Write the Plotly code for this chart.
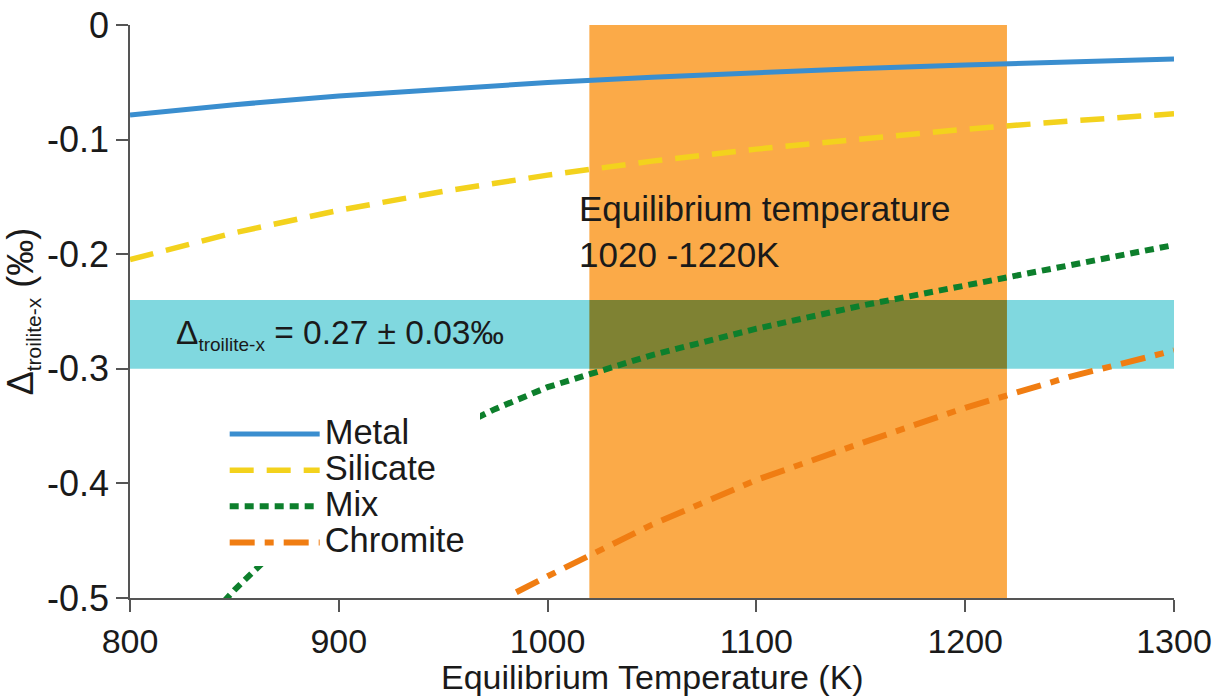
import plotly.graph_objects as go

# Fractionation curves, Δ(troilite - x) in ‰ versus equilibrium temperature (K)
metal_T = [800, 850, 900, 950, 1000, 1050, 1100, 1150, 1200, 1250, 1300]
metal_d = [-0.0785, -0.0695, -0.0620, -0.0556, -0.0502, -0.0455, -0.0415, -0.0380, -0.0349, -0.0321, -0.0297]

silicate_T = [800, 850, 900, 950, 1000, 1050, 1100, 1150, 1200, 1250, 1300]
silicate_d = [-0.2047, -0.1813, -0.1617, -0.1452, -0.1310, -0.1188, -0.1083, -0.0991, -0.0910, -0.0838, -0.0775]

mix_T = [845, 850, 875, 900, 925, 950, 975, 1000, 1050, 1100, 1150, 1200, 1250, 1300]
mix_d = [-0.503, -0.493, -0.449, -0.413, -0.383, -0.357, -0.335, -0.316, -0.288, -0.265, -0.245, -0.227, -0.209, -0.192]

chromite_T = [985, 1000, 1050, 1100, 1150, 1200, 1250, 1300]
chromite_d = [-0.495, -0.481, -0.436, -0.397, -0.365, -0.334, -0.307, -0.284]

# Equilibrium temperature window and measured Δ
eq_lo, eq_hi = 1020, 1220
delta_mean, delta_err = 0.27, 0.03

x_ticks = [800, 900, 1000, 1100, 1200, 1300]
x_tick_labels = ["800", "900", "1000", "1100", "1200", "1300"]
y_ticks = [-0.5, -0.4, -0.3, -0.2, -0.1, 0]
y_tick_labels = ["-0.5", "-0.4", "-0.3", "-0.2", "-0.1", "0"]

FONT = "Liberation Sans, Arial, sans-serif"
TXT = "#1a1a1a"
band_lo, band_hi = -(delta_mean + delta_err), -(delta_mean - delta_err)


def legend_name(s, pad=0):
    # larger visible text than the legend's base size keeps the rows tight
    return f"<span style='font-size:34.5px'>{s}{'&nbsp;' * pad}</span>"


fig = go.Figure()

series = [
    ("Metal", metal_T, metal_d, dict(color="#3a8ecf", width=5), 0),
    ("Silicate", silicate_T, silicate_d, dict(color="#f3d21d", width=5.5, dash="24px,13px"), 0),
    ("Mix", mix_T, mix_d, dict(color="#0d7f2c", width=6, dash="9px,6px"), 0),
    ("Chromite", chromite_T, chromite_d, dict(color="#f07d12", width=6, dash="25px,10px,9px,10px"), 1),
]
for name, xs, ys, line, pad in series:
    fig.add_trace(go.Scatter(x=xs, y=ys, mode="lines", name=legend_name(name, pad), line=line))

# shaded regions (drawn beneath the curves)
fig.add_shape(type="rect", xref="x", yref="y", x0=eq_lo, x1=eq_hi, y0=-0.5, y1=0,
              fillcolor="#fbaa48", line_width=0, layer="below")
fig.add_shape(type="rect", xref="x", yref="y", x0=800, x1=1300, y0=band_lo, y1=band_hi,
              fillcolor="#80d8df", line_width=0, layer="below")
fig.add_shape(type="rect", xref="x", yref="y", x0=eq_lo, x1=eq_hi, y0=band_lo, y1=band_hi,
              fillcolor="#7f8233", line_width=0, layer="below")

fig.add_annotation(x=1014, y=-0.141, xref="x", yref="y", xanchor="left", yanchor="top",
                   align="left", showarrow=False,
                   text=f"Equilibrium temperature<br>{eq_lo} -{eq_hi}K",
                   font=dict(family=FONT, size=35, color=TXT))
fig.add_annotation(x=821, y=-0.27, xref="x", yref="y", xanchor="left", yanchor="middle",
                   showarrow=False,
                   text=f"Δ<sub><span style='font-size:19px'>troilite-x</span></sub> = {delta_mean} ± {delta_err}‰",
                   font=dict(family=FONT, size=33.5, color=TXT))
# x-axis title placed directly below the tick labels
fig.add_annotation(x=0.5, y=-0.1379, xref="paper", yref="paper", xanchor="center", yanchor="middle",
                   showarrow=False, text="Equilibrium Temperature (K)",
                   font=dict(family=FONT, size=34, color=TXT))

fig.update_layout(
    width=1227, height=697,
    margin=dict(l=130, r=53, t=25, b=99),
    paper_bgcolor="white", plot_bgcolor="white",
    font=dict(family=FONT, size=33, color=TXT),
    showlegend=True,
    legend=dict(x=0.0907, y=0.3264, xanchor="left", yanchor="top",
                bgcolor="white", borderwidth=0, itemwidth=90,
                font=dict(family=FONT, size=25.5, color=TXT),
                tracegroupgap=0),
)
fig.update_xaxes(range=[800, 1300], tickvals=x_ticks, ticktext=x_tick_labels,
                 showline=True, linecolor="#555", linewidth=1.5, ticks="outside",
                 ticklen=12, tickcolor="#555", tickwidth=1.5, showgrid=False, zeroline=False,
                 tickfont=dict(size=34), automargin=False)
fig.update_yaxes(range=[-0.5, 0], tickvals=y_ticks, ticktext=y_tick_labels,
                 showline=True, linecolor="#555", linewidth=1.5, ticks="outside",
                 ticklen=12, tickcolor="#555", tickwidth=1.5, showgrid=False, zeroline=False,
                 tickfont=dict(size=36), automargin=False,
                 title=dict(text="Δ<sub><span style='font-size:21px'>troilite-x</span></sub> (‰)",
                            font=dict(size=36), standoff=4))

fig.write_html("out.html")
